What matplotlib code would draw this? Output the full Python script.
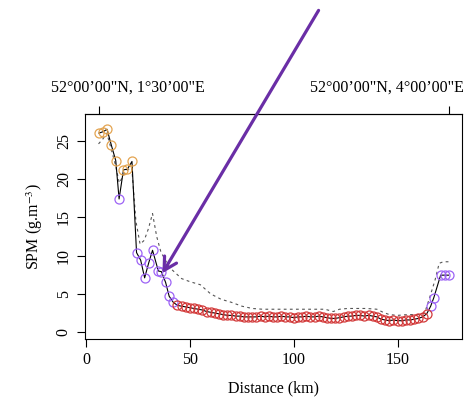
import matplotlib
matplotlib.use('Agg')
import matplotlib.pyplot as plt, numpy as np

plt.rcParams['font.family'] = ['Liberation Serif', 'DejaVu Serif']
plt.rcParams['mathtext.fontset'] = 'stix'

# SPM along the transect (km, g/m3) and the colour group of each sample
dist = [6.2, 8.3, 10.1, 12.2, 14.3, 15.9, 18.0, 19.9, 22.1,
        24.3, 26.3, 28.2, 30.1, 32.0, 34.8, 36.3, 38.3, 40.0, 42.0,
        44, 46, 48, 50, 52, 54, 56, 58, 60, 62, 64, 66, 68, 70, 72, 74, 76, 78, 80,
        82, 84, 86, 88, 90, 92, 94, 96, 98, 100, 102, 104, 106, 108, 110, 112, 114,
        116, 118, 120, 122, 124, 126, 128, 130, 132, 134, 136, 138, 140, 142, 144,
        146, 148, 150, 152, 154, 156, 158, 160, 162, 164,
        165.9, 167.4, 170.7, 172.6, 174.5]
spm = [26.0, 26.2, 26.5, 24.4, 22.4, 17.4, 21.2, 21.3, 22.3,
       10.4, 9.4, 7.1, 9.0, 10.7, 8.0, 7.9, 6.5, 4.7, 3.9,
       3.5, 3.4, 3.3, 3.2, 3.1, 3.0, 2.9, 2.7, 2.6, 2.5, 2.4, 2.3, 2.2, 2.2, 2.1, 2.1, 2.0, 2.0, 2.0,
       2.0, 2.1, 2.0, 2.1, 2.0, 2.0, 2.1, 2.0, 2.0, 1.9, 2.0, 2.0, 2.1, 2.0, 2.0, 2.1, 2.0,
       1.9, 1.8, 1.8, 1.9, 2.0, 2.1, 2.1, 2.2, 2.2, 2.1, 2.2, 2.1, 2.0, 1.7, 1.6,
       1.5, 1.6, 1.5, 1.5, 1.6, 1.6, 1.7, 1.8, 2.0, 2.4,
       3.4, 4.5, 7.45, 7.45, 7.45]
group = (['o'] * 5 + ['p'] + ['o'] * 3 + ['p'] * 10 + ['r'] * 61 + ['p'] * 5)

# dashed reference profile
dash_x = [6, 8, 10, 12, 14, 16, 18, 20, 22, 24, 26, 28, 30, 32, 34, 36, 38, 40, 42, 46,
          50, 55, 60, 65, 70, 75, 80, 85, 90, 100, 110, 115, 119, 122, 126, 130, 135,
          140, 143, 146, 150, 155, 160, 163, 165.5, 168, 170, 172, 174.5]
dash_y = [24.6, 25.2, 26.0, 24.0, 22.0, 19.5, 20.5, 21.2, 21.5, 14.5, 11.5, 12.0, 13.5,
          15.5, 12.5, 10.5, 9.5, 8.5, 8.0, 7.0, 6.6, 6.2, 5.0, 4.3, 3.9, 3.4, 3.1, 3.0,
          3.0, 3.0, 3.0, 3.0, 2.7, 3.0, 3.1, 3.1, 3.1, 3.0, 2.6, 2.3, 2.2, 2.3, 2.3, 2.5,
          4.6, 6.8, 9.0, 9.2, 9.2]

colours = {'o': '#e3a451', 'p': '#9d63f5', 'r': '#d23a3a'}
top_labels = ['52°00\u201900"N, 1°30\u201900"E', '52°00\u201900"N, 4°00\u201900"E']

fig = plt.figure(figsize=(4.75, 3.98), dpi=100)
ax = fig.add_axes([0.179, 0.148, 0.7937, 0.5656])

ax.plot(dash_x, dash_y, color='#555555', lw=0.8, ls=(0, (2.5, 3)))
ax.plot(dist, spm, color='black', lw=0.8)
d = np.array(dist); s = np.array(spm); g = np.array(group)
for k, c in colours.items():
    m = g == k
    ax.plot(d[m], s[m], 'o', ms=6.5, mfc='none', mec=c, mew=0.9)

ax.set_xlim(-0.5, 181)
ax.set_ylim(-0.9, 28.5)
ax.set_xticks([0, 50, 100, 150])
ax.set_yticks([0, 5, 10, 15, 20, 25])
ax.tick_params(direction='out', length=6, labelsize=11.5, width=0.8)
for lab in ax.get_yticklabels():
    lab.set_rotation(90)
    lab.set_va('center')
ax.set_xlabel('Distance (km)', fontsize=11.5, labelpad=9)
ax.set_ylabel('SPM (g.m$^{-3}$)', fontsize=11.5, labelpad=8)

# top axis: ticks at the transect ends, labels shifted as in the original
top = ax.secondary_xaxis('top')
top.set_xticks([dist[0], dist[-1]])
top.set_xticklabels(['', ''])
top.tick_params(direction='out', length=6, width=0.8)
tr = ax.get_xaxis_transform()
ax.text(20, 1.115, top_labels[0], transform=tr, ha='center', va='center', fontsize=11.5)
ax.text(182, 1.115, top_labels[1], transform=tr, ha='right', va='center', fontsize=11.5)

ax.annotate('', xy=(36.1, 7.4), xycoords='data',
            xytext=(320, 390), textcoords='figure pixels',
            arrowprops=dict(arrowstyle='->,head_length=0.9,head_width=0.5',
                            color='#6a2ea6', lw=2.3),
            annotation_clip=False)

fig.savefig('out.png', dpi=100)
